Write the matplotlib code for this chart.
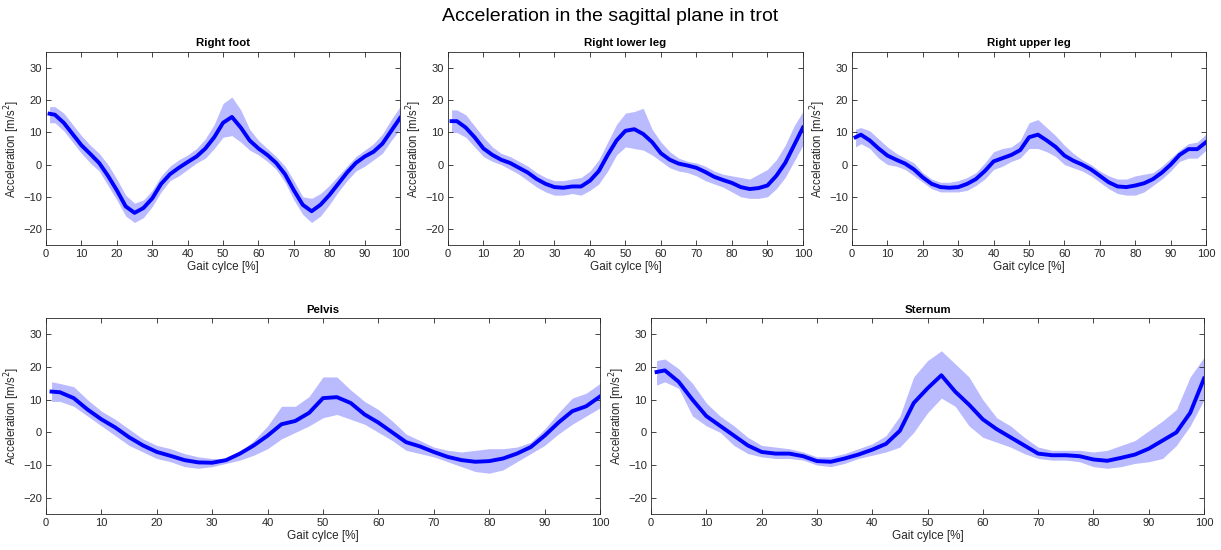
import numpy as np
import matplotlib
matplotlib.use("Agg")
import matplotlib.pyplot as plt

# ---------------------------------------------
# Mean acceleration and band limits per segment
# ---------------------------------------------

gait = [1, 2.5, 5, 7.5, 10, 12.5, 15, 17.5, 20, 22.5, 25, 27.5, 30, 32.5, 35, 37.5,
        40, 42.5, 45, 47.5, 50, 52.5, 55, 57.5, 60, 62.5, 65, 67.5, 70, 72.5, 75,
        77.5, 80, 82.5, 85, 87.5, 90, 92.5, 95, 97.5, 100]

foot_mean = [15.8, 15.5, 13, 9.5, 6, 3.3, 0.5, -3.5, -8, -13, -15, -13.5, -10.5, -6, -3, -1,
             0.8, 2.5, 5, 8.5, 13, 14.8, 11.5, 7.5, 5, 3, 0.5, -3, -8, -12.5, -14.5,
             -12.5, -9.5, -6, -2.5, 0.5, 2.5, 4, 6.5, 10.5, 14.5]
foot_upper = [18, 18, 16, 12.5, 9, 6, 3.5, 0, -4.5, -9.5, -12, -11, -8, -3.5, -0.5, 1.5,
              3, 5, 8, 12.5, 19, 21, 17, 11, 7.5, 5, 2.5, -0.5, -5, -10, -10.5,
              -9, -6.5, -3.5, -0.5, 2.5, 4.5, 6.5, 9.5, 14, 18]
foot_lower = [13, 13, 10.5, 7, 3.5, 0.5, -2, -6.5, -11, -16, -18, -16.5, -13, -8.5, -5, -3.5,
              -1.5, 0.5, 2, 5, 8.5, 9, 7, 4.5, 3, 1, -1.5, -5.5, -11, -15.5, -18,
              -16, -12.5, -8.5, -5, -2, -0.5, 1.5, 3.5, 7.5, 11]

lower_leg_mean = [13.5, 13.5, 11.5, 8.5, 5, 3, 1.5, 0.5, -1, -2.5, -4.5, -6, -7, -7.2, -6.8, -6.8,
                  -5, -2, 3, 7.5, 10.5, 11, 9.5, 7, 3.5, 1.5, 0.3, -0.3, -1, -2.3, -3.8,
                  -4.8, -5.7, -7, -7.6, -7.3, -6.5, -3.5, 0.5, 6, 11.5]
lower_leg_upper = [17, 17, 15.5, 12, 8.5, 5.5, 3.5, 2.5, 1, -0.5, -2.5, -4, -5, -5, -4.5, -4,
                   -2, 1.5, 7, 12.5, 16, 16.5, 17.5, 11, 7, 4, 2, 1, 0.5, -0.5, -2,
                   -3, -3.5, -4, -4.5, -3, -1.5, 1.5, 6, 12, 16.5]
lower_leg_lower = [10, 10, 8.5, 5.5, 2.5, 1, 0, -1.5, -3, -5, -7, -8.5, -9.5, -9.5, -9, -9.5,
                   -8, -6, -2, 3, 5.5, 5, 4.5, 3, 1, -1, -2, -2.5, -3.5, -5, -6,
                   -7, -8.5, -10, -10.5, -10.5, -10, -7.5, -4, 1, 6]

upper_leg_mean = [8.5, 9.3, 7.5, 5, 2.8, 1.5, 0.3, -1.5, -4, -6, -7, -7.2, -7, -6, -4.5, -2,
                  1, 2, 3, 4.5, 8.5, 9.3, 7.5, 5.5, 2.8, 1.2, 0, -1.5, -3.5, -5.5, -6.8,
                  -7, -6.5, -5.8, -4.5, -2.5, 0, 3, 4.8, 4.8, 7]
upper_leg_upper = [11, 11.5, 10.5, 8, 5.5, 3.5, 2, 0.5, -2.5, -4.5, -5.5, -5.5, -5, -4, -2.5, 0.5,
                   4, 5, 5.5, 7.5, 13, 14, 11.5, 9, 6, 3.5, 1.5, 0, -2, -3.5, -4.5,
                   -4.5, -3.5, -3, -2.5, -0.5, 2, 4.5, 6.5, 7, 9.5]
upper_leg_lower = [5.5, 6.5, 5, 2, 0, -0.5, -1.5, -3.5, -5.5, -7.5, -8.5, -8.5, -8.5, -8, -6.5, -4.5,
                   -1.5, -0.5, 1, 2, 5, 5, 4, 2.5, 0, -1, -2, -3.5, -5.5, -7.5, -9,
                   -9.5, -9.5, -8.5, -6.5, -4.5, -2, 1, 2, 2, 4.5]

pelvis_mean = [12.5, 12.3, 10.5, 7, 4, 1.5, -1.5, -4, -6, -7.2, -8.5, -9.2, -9.3, -8.5, -6.5, -4,
               -1, 2.5, 3.5, 6, 10.5, 10.8, 9, 5.5, 3, 0, -3, -4.3, -6, -7.5, -8.5,
               -9, -8.8, -8, -6.5, -4.5, -1, 3, 6.5, 8, 11]
pelvis_upper = [15.5, 15, 14, 10, 6.5, 4, 1, -2, -4, -5, -6.5, -7.5, -8, -8, -6, -2.5,
                2, 8, 8, 11, 17, 17, 13, 9.5, 7, 3.5, -0.5, -2.5, -4.5, -5.5, -6,
                -5.5, -5, -5, -4.5, -3, 1, 6, 10.5, 12, 15]
pelvis_lower = [9.5, 9.5, 8, 5, 2, -1, -4, -6, -8, -9, -10.5, -11, -10.5, -9.5, -8.5, -7,
                -5, -2, 0, 2, 4.5, 5.5, 4, 2.5, 0, -2.5, -5.5, -6.5, -7.5, -9, -10.5,
                -12, -12.5, -11.5, -9, -6.5, -4, -0.5, 2.5, 5, 7.5]

sternum_mean = [18.5, 19, 15.5, 10, 5, 2, -1, -4, -6, -6.5, -6.5, -7.3, -8.8, -9, -8, -6.8,
                -5.3, -3.5, 0.5, 9, 13.5, 17.5, 12.5, 8.5, 4, 1, -1.5, -4, -6.5, -7, -7,
                -7.3, -8.3, -8.7, -7.8, -6.8, -5, -2.5, 0, 6, 16.5]
sternum_upper = [22, 22.5, 19.5, 15, 9, 5, 2, -1.5, -4, -4.5, -5, -6, -7.5, -7.5, -6.5, -5,
                 -3.5, -1, 5, 17, 22, 25, 21, 17, 10, 4.5, 2, -1.5, -4.5, -5.5, -5.5,
                 -5.5, -6, -5.5, -4, -2.5, 0.5, 3.5, 7, 17, 23]
sternum_lower = [14.5, 15.5, 13.5, 5, 2, 0, -4, -6.5, -7.5, -8, -8, -8.5, -10, -10.5, -9.5, -8,
                 -7, -6, -4.5, 0, 6, 10.5, 8, 2, -1.5, -3, -4.5, -6.5, -8, -8.5, -8.5,
                 -9, -10.5, -11, -10.5, -9.5, -9, -8, -4, 2, 10]

titles = ["Right foot", "Right lower leg", "Right upper leg", "Pelvis", "Sternum"]
means = [foot_mean, lower_leg_mean, upper_leg_mean, pelvis_mean, sternum_mean]
uppers = [foot_upper, lower_leg_upper, upper_leg_upper, pelvis_upper, sternum_upper]
lowers = [foot_lower, lower_leg_lower, upper_leg_lower, pelvis_lower, sternum_lower]

# ---------------------------------------------
# Figure layout: three panels on top, two below
# ---------------------------------------------

plt.rcParams["font.family"] = ["Liberation Sans", "DejaVu Sans"]
ink = "#262626"

fig = plt.figure(figsize=(12.21, 5.5), dpi=100)
boxes = [
    [0.0377, 0.5545, 0.2900, 0.351],
    [0.3669, 0.5545, 0.2907, 0.351],
    [0.6978, 0.5545, 0.2900, 0.351],
    [0.0377, 0.0655, 0.4537, 0.356],
    [0.5332, 0.0655, 0.4529, 0.356],
]

for box, title, m, up, lo in zip(boxes, titles, means, uppers, lowers):
    ax = fig.add_axes(box)
    ax.fill_between(gait, lo, up, color=(0, 0, 1), alpha=0.27, linewidth=0)
    ax.plot(gait, m, color=(0, 0, 1), linewidth=2.8, solid_joinstyle="round")
    ax.set_xlim(0, 100)
    ax.set_ylim(-25, 35)
    ax.set_xticks(np.arange(0, 101, 10))
    ax.set_yticks(np.arange(-20, 31, 10))
    ax.tick_params(direction="in", top=True, right=True, length=3.5, width=0.6,
                   labelsize=8, colors=ink, pad=3)
    for spine in ax.spines.values():
        spine.set_color(ink)
        spine.set_linewidth(0.6)
    ax.set_title(title, fontsize=8.2, fontweight="bold", color="black", pad=4)
    ax.set_xlabel("Gait cylce [%]", fontsize=8.5, color=ink, labelpad=1)
    ax.set_ylabel("Acceleration [m/s$^2$]", fontsize=8.3, color=ink, labelpad=1)

fig.suptitle("Acceleration in the sagittal plane in trot", fontsize=14, y=0.985)

fig.savefig("out.png", dpi=100)
plt.close(fig)
